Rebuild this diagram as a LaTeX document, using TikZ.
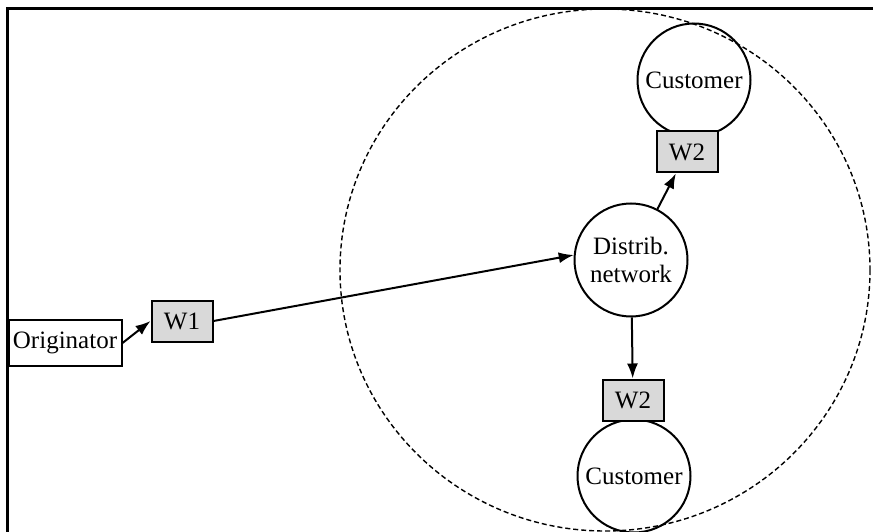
\documentclass[tikz,border=0pt]{standalone}
\usepackage{fontspec}
\setmainfont{Liberation Serif}
\usetikzlibrary{arrows.meta}
\definecolor{boxgray}{RGB}{217,217,217}
\tikzset{
  party/.style={draw, line width=2pt, circle, minimum size=113pt, inner sep=0pt, align=center},
  wbox/.style={draw, line width=2pt, fill=boxgray, minimum width=61pt, minimum height=41pt, inner sep=0pt},
  flow/.style={line width=2pt, -{Latex[length=15pt,width=11pt]}}
}
\begin{document}
\begin{tikzpicture}[x=1pt,y=-1pt,font=\fontsize{25}{28}\selectfont]
\useasboundingbox (0,0) rectangle (873,532);

% frame and boundary
\draw[line width=3pt] (7,532) -- (7,9) -- (873,9);
\draw[line width=1.4pt, dash pattern=on 5pt off 3pt] (605,270) ellipse [x radius=265, y radius=261];

\node[draw, line width=2pt, minimum width=113pt, minimum height=46pt, inner sep=0pt] (orig) at (65,343) {Originator};
\node[wbox] (w1) at (182,321) {W1};

\node[party] (dist) at (631,260) {Distrib.\\network};

\node[party] (custa) at (694,80) {Customer};
\node[wbox] (w2a) at (687,152) {W2};

\node[party] (custb) at (634,476) {Customer};
\node[wbox] (w2b) at (633,400) {W2};

\draw[flow] (orig.east) -- (w1.west);
\draw[flow] (w1.east) -- (dist.175);
\draw[flow] (dist) -- (w2a);
\draw[flow] (dist) -- (w2b);
\end{tikzpicture}
\end{document}
